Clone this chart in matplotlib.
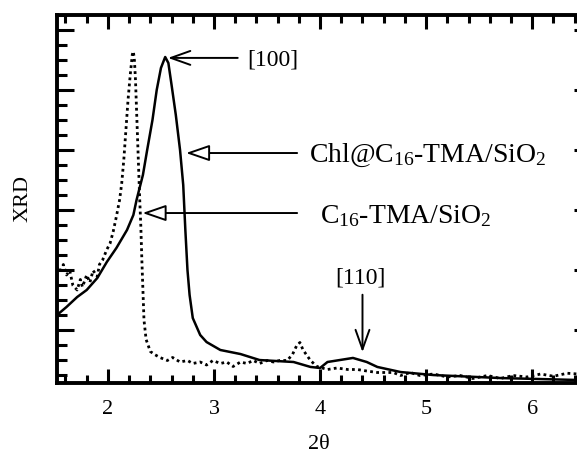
import matplotlib
matplotlib.use("Agg")
import matplotlib.pyplot as plt
from matplotlib.ticker import MultipleLocator, FixedLocator

plt.rcParams["font.family"] = ["Liberation Serif", "DejaVu Serif"]
plt.rcParams["mathtext.fontset"] = "custom"
plt.rcParams["mathtext.rm"] = "Liberation Serif"
plt.rcParams["mathtext.it"] = "Liberation Serif:italic"

# Chl@C16-TMA/SiO2 (solid)
chl_x = [1.52, 1.61, 1.71, 1.80, 1.90, 1.99, 2.08, 2.18, 2.24, 2.27, 2.33, 2.37,
         2.42, 2.46, 2.50, 2.54, 2.57, 2.60, 2.64, 2.68, 2.71, 2.73, 2.75, 2.77,
         2.80, 2.87, 2.93, 3.06, 3.25, 3.43, 3.75, 3.91, 4.00, 4.07, 4.31, 4.44,
         4.54, 4.76, 5.07, 5.70, 6.43]
chl_y = [4.03, 4.57, 5.23, 5.70, 6.50, 7.57, 8.50, 9.70, 10.70, 11.70, 13.37, 15.03,
         17.03, 19.03, 20.5, 21.23, 20.83, 19.37, 17.37, 15.03, 12.7, 9.7, 7.03, 5.37,
         3.83, 2.7, 2.23, 1.7, 1.43, 1.03, 0.9, 0.57, 0.5, 0.9, 1.17, 0.9,
         0.57, 0.23, 0.03, -0.17, -0.3]

# C16-TMA/SiO2 (dotted)
c16_x = [1.52, 1.55, 1.58, 1.61, 1.64, 1.67, 1.71, 1.74, 1.76, 1.80, 1.83, 1.86,
         1.90, 1.92, 1.95, 1.99, 2.02, 2.05, 2.08, 2.11, 2.13, 2.15, 2.17, 2.19,
         2.21, 2.23, 2.24, 2.25, 2.26, 2.27, 2.28, 2.29, 2.30, 2.31, 2.32, 2.33,
         2.34, 2.36, 2.40, 2.44, 2.49, 2.56, 2.61, 2.68, 2.75, 2.80, 2.87, 2.93,
         2.99, 3.06, 3.12, 3.18, 3.25, 3.31, 3.37, 3.43, 3.50, 3.56, 3.62, 3.69,
         3.74, 3.78, 3.81, 3.84, 3.88, 3.91, 3.97, 4.07, 4.16, 4.26, 4.35, 4.44,
         4.54, 4.69, 4.76, 4.85, 4.94, 5.07, 5.20, 5.32, 5.44, 5.58, 5.70, 5.82,
         5.95, 6.08, 6.20, 6.33, 6.43]
c16_y = [7.2, 6.9, 7.4, 6.7, 7.0, 6.0, 5.7, 6.4, 5.9, 6.7, 6.2, 7.0,
         6.6, 7.4, 7.7, 8.4, 8.8, 9.6, 10.6, 11.7, 12.8, 14.4, 16.4, 18.4,
         20.0, 21.4, 21.6, 21.0, 19.7, 17.7, 15.7, 13.7, 11.7, 10.0, 7.7, 5.7,
         3.7, 2.4, 1.6, 1.4, 1.2, 1.0, 1.2, 0.9, 1.0, 0.8, 0.9, 0.7,
         1.0, 0.8, 0.9, 0.6, 0.9, 0.8, 1.0, 0.8, 1.0, 0.9, 1.0, 1.0,
         1.4, 2.0, 2.2, 1.7, 1.3, 1.0, 0.6, 0.4, 0.5, 0.4, 0.4, 0.3,
         0.2, 0.2, 0.0, 0.2, 0.0, 0.1, -0.1, 0.0, -0.2, 0.0, -0.2, 0.0,
         -0.1, 0.1, -0.05, 0.15, 0.1]

fig = plt.figure(figsize=(5.77, 4.55), dpi=100)
ax = fig.add_axes([57 / 577, 72 / 455, 524 / 577, 368 / 455])

ax.plot(chl_x, chl_y, color="black", lw=1.8)
ax.plot(c16_x, c16_y, color="black", lw=2.0, ls=(0, (1, 1.2)))

ax.set_xlim(1.52, 6.46)
ax.set_ylim(-0.5, 24.03)

for s in ax.spines.values():
    s.set_linewidth(2.8)

ax.xaxis.set_major_locator(MultipleLocator(1))
ax.xaxis.set_minor_locator(MultipleLocator(0.2))
ax.yaxis.set_major_locator(FixedLocator([3, 7, 11, 15, 19, 23]))
ax.yaxis.set_minor_locator(MultipleLocator(1))
ax.set_yticklabels([])

ax.tick_params(axis="x", which="major", direction="in", length=10, width=2.2,
               top=True, labelsize=16, pad=12)
ax.tick_params(axis="x", which="minor", direction="in", length=6, width=2.2, top=True)
ax.tick_params(axis="y", which="major", direction="in", length=12, width=2.2, right=False)
ax.tick_params(axis="y", which="minor", direction="in", length=7, width=2.2, right=False)

sec = ax.secondary_yaxis("right")
sec.set_yticks([3, 7, 11, 15, 19, 23])
sec.set_yticklabels([])
sec.tick_params(direction="in", length=5, width=2.2)
sec.spines["right"].set_visible(False)

ax.set_xlabel("2θ", fontsize=16, labelpad=12)
ax.set_ylabel("XRD", fontsize=16, labelpad=14)

v_head = dict(arrowstyle="->,head_length=1.4,head_width=0.5", color="black", lw=1.4)
t_head = dict(arrowstyle="-|>,head_length=1.45,head_width=0.5", ec="black", lw=1.4,
              fc="white")

ax.annotate("", xy=(2.54, 21.17), xytext=(3.25, 21.17), arrowprops=v_head)
ax.text(3.31, 21.0, "[100]", fontsize=17, va="center", ha="left")

ax.annotate("", xy=(2.71, 14.83), xytext=(3.81, 14.83), arrowprops=t_head)
ax.text(3.9, 14.7, r"Chl@C$_\mathrm{16}$-TMA/SiO$_\mathrm{2}$", fontsize=20,
        va="center", ha="left")

ax.annotate("", xy=(2.30, 10.83), xytext=(3.81, 10.83), arrowprops=t_head)
ax.text(4.0, 10.6, r"C$_\mathrm{16}$-TMA/SiO$_\mathrm{2}$", fontsize=20,
        va="center", ha="left")

ax.text(4.38, 6.5, "[110]", fontsize=17, va="center", ha="center")
ax.annotate("", xy=(4.40, 1.37), xytext=(4.40, 5.57), arrowprops=v_head)

fig.savefig("out.png", dpi=100)
